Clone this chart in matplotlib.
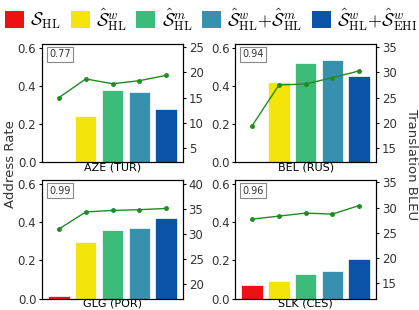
import numpy as np
import matplotlib
matplotlib.use("Agg")
import matplotlib.pyplot as plt
from matplotlib.patches import Patch

plt.rcParams["mathtext.fontset"] = "cm"
plt.rcParams["font.family"] = "DejaVu Sans"

SYSTEMS = [r"$\mathcal{S}_{\mathrm{HL}}$",
           r"$\hat{\mathcal{S}}^{w}_{\mathrm{HL}}$",
           r"$\hat{\mathcal{S}}^{m}_{\mathrm{HL}}$",
           r"$\hat{\mathcal{S}}^{w}_{\mathrm{HL}}{+}\hat{\mathcal{S}}^{m}_{\mathrm{HL}}$",
           r"$\hat{\mathcal{S}}^{w}_{\mathrm{HL}}{+}\hat{\mathcal{S}}^{w}_{\mathrm{EHI}}$"]
COLORS = ["#ee1111", "#f3e50a", "#3cbb7a", "#3790ae", "#0a53a8"]

PAIRS = ["AZE (TUR)", "BEL (RUS)", "GLG (POR)", "SLK (CES)"]
CORR = ["0.77", "0.94", "0.99", "0.96"]

# address rate per system (bars)
rate_aze = [0.0, 0.24, 0.379, 0.367, 0.28]
rate_bel = [0.0, 0.42, 0.519, 0.536, 0.453]
rate_glg = [0.015, 0.298, 0.358, 0.372, 0.423]
rate_slk = [0.071, 0.090, 0.128, 0.143, 0.209]

# translation BLEU per system (line)
bleu_aze = [15.0, 18.7, 17.75, 18.35, 19.4]
bleu_bel = [19.4, 27.5, 27.7, 28.95, 30.3]
bleu_glg = [31.0, 34.4, 34.7, 34.85, 35.1]
bleu_slk = [27.7, 28.3, 28.9, 28.7, 30.4]

RATES = [rate_aze, rate_bel, rate_glg, rate_slk]
BLEUS = [bleu_aze, bleu_bel, bleu_glg, bleu_slk]
BLEU_LIMS = [(2.15, 25.65), (12.15, 35.65), (17.1, 40.7), (11.9, 35.4)]
BLEU_TICKS = [[5, 10, 15, 20, 25], [15, 20, 25, 30, 35],
              [20, 25, 30, 35, 40], [15, 20, 25, 30, 35]]

POSITIONS = [[0.100, 0.477, 0.337, 0.381], [0.561, 0.477, 0.337, 0.381],
             [0.100, 0.037, 0.337, 0.381], [0.561, 0.037, 0.337, 0.381]]

fig = plt.figure(figsize=(4.19, 3.10), dpi=100)
x = np.arange(len(SYSTEMS))

for i in range(4):
    ax = fig.add_axes(POSITIONS[i])
    ax.bar(x, RATES[i], width=0.8, color=COLORS, edgecolor="white",
           linewidth=0.5)
    ax.set_ylim(0, 0.62)
    ax.set_yticks([0.0, 0.2, 0.4, 0.6])
    ax.set_xticks([])
    ax.set_xlabel(PAIRS[i], fontsize=8, labelpad=0)
    ax.tick_params(axis="y", labelsize=8.5, length=2.5, pad=1.5,
                   labelcolor="#333333")
    ax.text(0.05, 0.955, CORR[i], transform=ax.transAxes, fontsize=7,
            ha="left", va="top", color="#333333",
            bbox=dict(boxstyle="square,pad=0.25", fc="white",
                      ec="#888888", lw=0.8))

    ax2 = ax.twinx()
    ax2.plot(x, BLEUS[i], color="#228b22", marker="o", markersize=2.5,
             linewidth=1)
    ax2.set_ylim(*BLEU_LIMS[i])
    ax2.set_yticks(BLEU_TICKS[i])
    ax2.tick_params(axis="y", labelsize=8.5, length=2.5, pad=1.5,
                    labelcolor="#333333")

fig.text(0.025, 0.47, "Address Rate", rotation=90, ha="center",
         va="center", fontsize=9.5, color="#333333")
fig.text(0.982, 0.47, "Translation BLEU", rotation=270, ha="center",
         va="center", fontsize=9.5, color="#333333")

handles = [Patch(facecolor=c) for c in COLORS]
fig.legend(handles, SYSTEMS, loc="upper left", bbox_to_anchor=(-0.01, 1.01),
           ncol=5, frameon=False, fontsize=13, handlelength=1.05,
           handleheight=1.05, handletextpad=0.35, columnspacing=0.55,
           borderaxespad=0.1)

fig.savefig("out.png", dpi=100)
